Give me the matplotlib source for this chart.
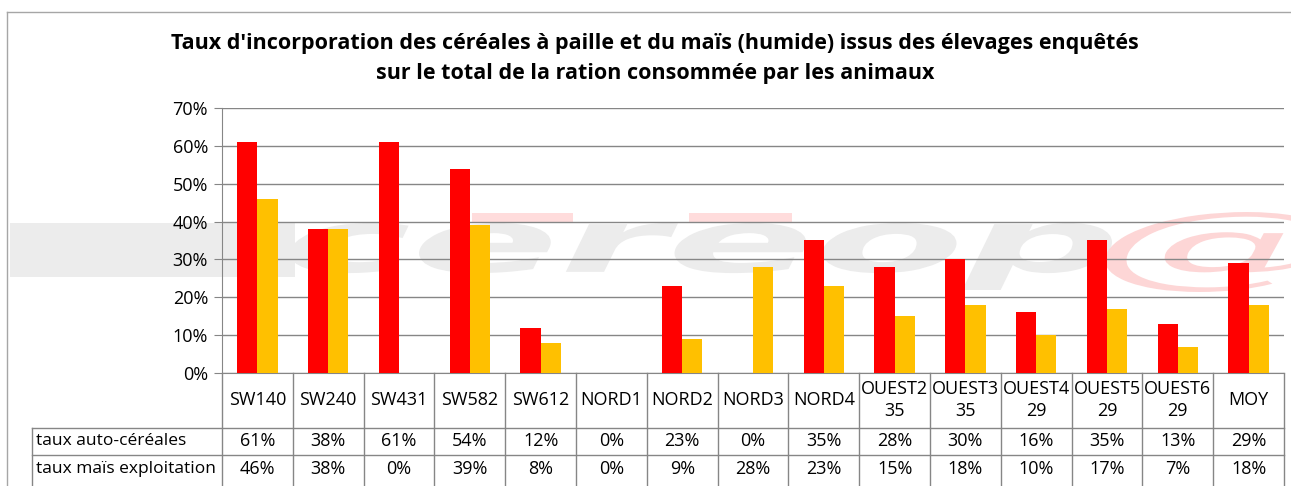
import matplotlib
matplotlib.use("Agg")
import matplotlib.pyplot as plt
from matplotlib.font_manager import FontProperties
from matplotlib.lines import Line2D
from matplotlib.patches import PathPatch, Rectangle
from matplotlib.textpath import TextPath
from matplotlib.transforms import Affine2D, IdentityTransform, blended_transform_factory

W, H = 1291, 486

categories = ["SW140", "SW240", "SW431", "SW582", "SW612", "NORD1", "NORD2",
              "NORD3", "NORD4", "OUEST2\n35", "OUEST3\n35", "OUEST4\n29",
              "OUEST5\n29", "OUEST6\n29", "MOY"]
auto_cereales = [61, 38, 61, 54, 12, 0, 23, 0, 35, 28, 30, 16, 35, 13, 29]
mais_exploitation = [46, 38, 0, 39, 8, 0, 9, 28, 23, 15, 18, 10, 17, 7, 18]
series_names = ["taux auto-céréales", "taux maïs exploitation"]
yticks = [0, 10, 20, 30, 40, 50, 60, 70]

RED, YELLOW, GRID, INK = "#ff0000", "#ffc000", "#868686", "#000000"
FONT = "Open Sans"
FS = 13


def fx(px):
    return px / W


def fy(py):
    return 1 - py / H


def boxed_text(fig, s, box, color, **font):
    # stretch a text outline into a pixel box (x0, y0, x1, y1), y measured from top
    path = TextPath((0, 0), s, size=50, prop=FontProperties(**font))
    ext = path.get_extents()
    x0, y0, x1, y1 = box
    sx = (x1 - x0) / ext.width
    sy = (y1 - y0) / ext.height
    tf = (Affine2D().translate(-ext.x0, -ext.y0).scale(sx, sy)
          .translate(x0, H - y1))
    fig.patches.append(PathPatch(tf.transform_path(path), facecolor=color,
                                 edgecolor="none", transform=IdentityTransform(),
                                 zorder=-4))


fig = plt.figure(figsize=(W / 100, H / 100), dpi=100, facecolor="white")

# chart border
fig.lines.append(Line2D([fx(7), 1], [fy(12), fy(12)], transform=fig.transFigure,
                        color="#a6a6a6", linewidth=1))
fig.lines.append(Line2D([fx(7), fx(7)], [fy(12), 0], transform=fig.transFigure,
                        color="#a6a6a6", linewidth=1))

# watermark
fig.patches.append(Rectangle((fx(10), fy(277)), (295 - 10) / W, (277 - 223) / H,
                             transform=fig.transFigure, facecolor="#ececec",
                             edgecolor="none", zorder=-5))
for x0, x1 in [(472, 573), (689, 792)]:
    fig.patches.append(Rectangle((fx(x0), fy(222)), (x1 - x0) / W, 9 / H,
                                 transform=fig.transFigure, facecolor="#ffdcdc",
                                 edgecolor="none", zorder=-5))
boxed_text(fig, "cereop", (290, 223, 1112, 290), "#ececec",
           family="DejaVu Sans", weight="bold", style="oblique")
boxed_text(fig, "@", (1105, 212, 1335, 292), "#fdd6d6",
           family="DejaVu Serif", style="italic")

fig.text(fx(655), fy(44), "Taux d'incorporation des céréales à paille et du maïs "
         "(humide) issus des élevages enquêtés", ha="center", va="center",
         fontsize=15.5, fontweight="bold", family=FONT, color=INK)
fig.text(fx(655), fy(74), "sur le total de la ration consommée par les animaux",
         ha="center", va="center", fontsize=15.5, fontweight="bold", family=FONT,
         color=INK)

ax = fig.add_axes([fx(222), fy(373), fx(1284) - fx(222), (373 - 108) / H])
ax.set_facecolor("none")
n = len(categories)
xs = list(range(n))
bw = 1 / 3.5
ax.bar([x - bw / 2 for x in xs], auto_cereales, width=bw, color=RED, zorder=3)
ax.bar([x + bw / 2 for x in xs], mais_exploitation, width=bw, color=YELLOW, zorder=3)
ax.set_xlim(-0.5, n - 0.5)
ax.set_ylim(0, 70)
ax.set_yticks(yticks)
ax.set_yticklabels([f"{v}%" for v in yticks], family=FONT, fontsize=FS)
ax.tick_params(axis="y", length=6, color=GRID, pad=4)
ax.set_xticks([])
ax.grid(axis="y", color=GRID, linewidth=1, zorder=0)
ax.set_axisbelow(True)
for side in ["top", "right"]:
    ax.spines[side].set_visible(False)
ax.spines["left"].set_color(GRID)
ax.spines["bottom"].set_color(GRID)

# data table under the axis
tr = blended_transform_factory(ax.transData, fig.transFigure)
for x in [i - 0.5 for i in range(n + 1)]:
    ax.add_line(Line2D([x, x], [fy(373), 0], transform=tr, color=GRID,
                       linewidth=1, clip_on=False))
for py in [428, 455]:
    fig.lines.append(Line2D([fx(32), fx(1284)], [fy(py), fy(py)],
                            transform=fig.transFigure, color=GRID, linewidth=1))
fig.lines.append(Line2D([fx(32), fx(32)], [fy(428), 0], transform=fig.transFigure,
                        color=GRID, linewidth=1))

head_mid = fy(400)
for i, lab in enumerate(categories):
    ax.text(i, head_mid, lab, transform=tr, ha="center", va="center",
            fontsize=FS, family=FONT, linespacing=1.3, clip_on=False)
for py, name, vals in [(441, series_names[0], auto_cereales),
                       (469, series_names[1], mais_exploitation)]:
    fig.text(fx(36), fy(py), name, ha="left", va="center", fontsize=12.5,
             family=FONT)
    for i, v in enumerate(vals):
        ax.text(i, fy(py), f"{v}%", transform=tr, ha="center", va="center",
                fontsize=FS, family=FONT, clip_on=False)

fig.savefig("out.png", dpi=100, facecolor="white")
